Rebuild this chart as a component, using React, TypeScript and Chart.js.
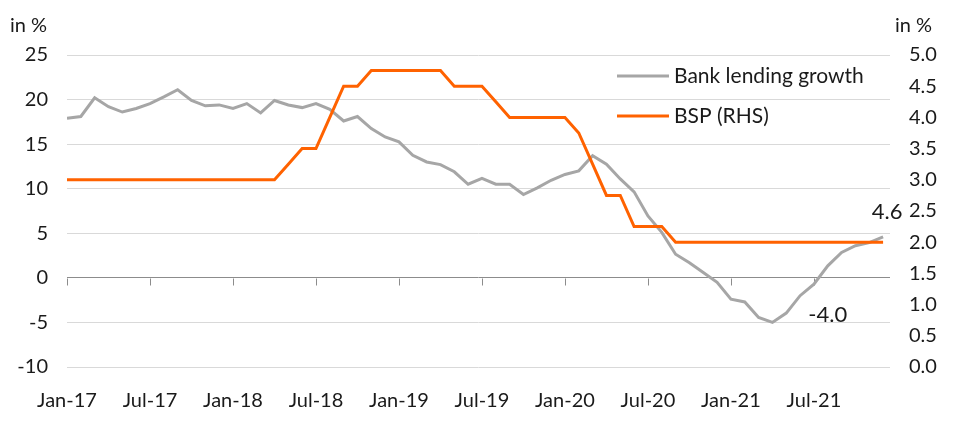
import React, { useEffect, useRef } from 'react';
import { Chart, registerables } from 'chart.js';

Chart.register(...registerables);

const months = [
  'Jan-17', 'Feb-17', 'Mar-17', 'Apr-17', 'May-17', 'Jun-17', 'Jul-17', 'Aug-17', 'Sep-17', 'Oct-17', 'Nov-17', 'Dec-17',
  'Jan-18', 'Feb-18', 'Mar-18', 'Apr-18', 'May-18', 'Jun-18', 'Jul-18', 'Aug-18', 'Sep-18', 'Oct-18', 'Nov-18', 'Dec-18',
  'Jan-19', 'Feb-19', 'Mar-19', 'Apr-19', 'May-19', 'Jun-19', 'Jul-19', 'Aug-19', 'Sep-19', 'Oct-19', 'Nov-19', 'Dec-19',
  'Jan-20', 'Feb-20', 'Mar-20', 'Apr-20', 'May-20', 'Jun-20', 'Jul-20', 'Aug-20', 'Sep-20', 'Oct-20', 'Nov-20', 'Dec-20',
  'Jan-21', 'Feb-21', 'Mar-21', 'Apr-21', 'May-21', 'Jun-21', 'Jul-21', 'Aug-21', 'Sep-21', 'Oct-21', 'Nov-21', 'Dec-21',
];

const xTickMonths = ['Jan-17', 'Jul-17', 'Jan-18', 'Jul-18', 'Jan-19', 'Jul-19', 'Jan-20', 'Jul-20', 'Jan-21', 'Jul-21'];

const lendingGrowth = [
  17.9, 18.1, 20.2, 19.2, 18.6, 19.0, 19.55, 20.3, 21.1, 19.9, 19.3, 19.4,
  19.0, 19.55, 18.5, 19.9, 19.4, 19.1, 19.55, 18.9, 17.6, 18.1, 16.75, 15.8,
  15.25, 13.75, 13.0, 12.7, 11.9, 10.5, 11.15, 10.5, 10.5, 9.35, 10.1, 10.95,
  11.6, 12.0, 13.7, 12.75, 11.1, 9.65, 6.95, 5.1, 2.65, 1.7, 0.6, -0.5,
  -2.4, -2.7, -4.45, -5.0, -3.95, -2.0, -0.7, 1.35, 2.85, 3.6, 3.95, 4.6,
];

const bspRate = [
  3.0, 3.0, 3.0, 3.0, 3.0, 3.0, 3.0, 3.0, 3.0, 3.0, 3.0, 3.0,
  3.0, 3.0, 3.0, 3.0, 3.25, 3.5, 3.5, 4.0, 4.5, 4.5, 4.75, 4.75,
  4.75, 4.75, 4.75, 4.75, 4.5, 4.5, 4.5, 4.25, 4.0, 4.0, 4.0, 4.0,
  4.0, 3.75, 3.25, 2.75, 2.75, 2.25, 2.25, 2.25, 2.0, 2.0, 2.0, 2.0,
  2.0, 2.0, 2.0, 2.0, 2.0, 2.0, 2.0, 2.0, 2.0, 2.0, 2.0, 2.0,
];

const seriesNames = ['Bank lending growth', 'BSP (RHS)'];
const axisUnit = 'in %';
const lastValueLabel = '4.6';
const troughLabel = '-4.0';
const troughLabelMonth = 'Aug-21';
const troughLabelValue = -4.0;

const FONT = 'Lato, "Noto Sans", sans-serif';
const TEXT = '#1a1a1a';
const GREY = '#a6a6a6';
const ORANGE = '#ff6200';

const overlay = {
  id: 'overlay',
  beforeDatasetsDraw(chart: any) {
    const { ctx, scales } = chart;
    const x = scales.x;
    const y = scales.y;
    const y0 = Math.round(y.getPixelForValue(0)) + 0.5;
    ctx.save();
    ctx.strokeStyle = '#8c8c8c';
    ctx.lineWidth = 1;
    xTickMonths.forEach((m) => {
      const px = Math.round(x.getPixelForValue(months.indexOf(m))) + 0.5;
      ctx.beginPath();
      ctx.moveTo(px, y0);
      ctx.lineTo(px, y0 + 7);
      ctx.stroke();
    });
    ctx.restore();
  },
  afterDatasetsDraw(chart: any) {
    const { ctx, scales, chartArea } = chart;
    const x = scales.x;
    const y = scales.y;
    ctx.save();
    ctx.fillStyle = TEXT;
    ctx.textBaseline = 'middle';
    ctx.font = `20px ${FONT}`;
    ctx.textAlign = 'left';
    ctx.fillText(axisUnit, 10, 26);
    ctx.fillText(axisUnit, 895, 26);

    // legend
    ctx.font = `21px ${FONT}`;
    const lx = chartArea.right - 273;
    const rows = [
      { name: seriesNames[0], color: GREY, yy: 76 },
      { name: seriesNames[1], color: ORANGE, yy: 116 },
    ];
    rows.forEach((r) => {
      ctx.strokeStyle = r.color;
      ctx.lineWidth = 3;
      ctx.beginPath();
      ctx.moveTo(lx, r.yy);
      ctx.lineTo(lx + 52, r.yy);
      ctx.stroke();
      ctx.fillText(r.name, lx + 57, r.yy);
    });

    // annotations
    ctx.font = `22px ${FONT}`;
    ctx.textAlign = 'center';
    const lastIdx = lendingGrowth.length - 1;
    ctx.fillText(lastValueLabel, x.getPixelForValue(lastIdx) + 4, y.getPixelForValue(lendingGrowth[lastIdx]) - 25);
    ctx.fillText(troughLabel, x.getPixelForValue(months.indexOf(troughLabelMonth)), y.getPixelForValue(troughLabelValue) + 1);
    ctx.restore();
  },
};

export default function App() {
  const ref = useRef<HTMLCanvasElement | null>(null);

  useEffect(() => {
    if (!ref.current) return;
    const chart = new Chart(ref.current, {
      type: 'line',
      data: {
        datasets: [
          {
            label: seriesNames[0],
            data: lendingGrowth.map((v, i) => ({ x: i, y: v })),
            borderColor: GREY,
            backgroundColor: GREY,
            borderWidth: 3,
            pointRadius: 0,
            tension: 0,
            yAxisID: 'y',
            order: 1,
          },
          {
            label: seriesNames[1],
            data: bspRate.map((v, i) => ({ x: i, y: v })),
            borderColor: ORANGE,
            backgroundColor: ORANGE,
            borderWidth: 3,
            pointRadius: 0,
            tension: 0,
            yAxisID: 'y1',
            order: 0,
          },
        ],
      },
      options: {
        responsive: false,
        animation: false,
        layout: { padding: { top: 55, left: 0, right: 0, bottom: 0 } },
        plugins: { legend: { display: false }, tooltip: { enabled: false } },
        scales: {
          x: {
            type: 'linear',
            min: 0,
            max: 59.5,
            grid: { display: false },
            border: { display: false },
            ticks: {
              autoSkip: false,
              maxRotation: 0,
              padding: 14,
              color: TEXT,
              font: { family: FONT, size: 20 },
              callback: (v: any) => months[Number(v)] ?? '',
            },
            afterBuildTicks: (s: any) => {
              s.ticks = xTickMonths.map((m) => ({ value: months.indexOf(m) }));
            },
            afterFit: (s: any) => {
              s.height = 71;
            },
          },
          y: {
            type: 'linear',
            position: 'left',
            min: -10,
            max: 25,
            ticks: { stepSize: 5, padding: 19, color: TEXT, font: { family: FONT, size: 20 } },
            grid: {
              drawTicks: false,
              lineWidth: 1,
              color: (c: any) => (c.tick && c.tick.value === 0 ? '#8c8c8c' : '#d9d9d9'),
            },
            border: { display: false },
            afterFit: (s: any) => {
              s.width = 67;
            },
          },
          y1: {
            type: 'linear',
            position: 'right',
            min: 0,
            max: 5,
            ticks: {
              stepSize: 0.5,
              padding: 19,
              color: TEXT,
              font: { family: FONT, size: 20 },
              callback: (v: any) => Number(v).toFixed(1),
            },
            grid: { display: false, drawTicks: false },
            border: { display: false },
            afterFit: (s: any) => {
              s.width = 63;
            },
          },
        },
      },
      plugins: [overlay],
    } as any);
    return () => chart.destroy();
  }, []);

  return (
    <div style={{ position: 'absolute', left: 0, top: 0, width: 953, height: 438, background: '#fff' }}>
      <canvas ref={ref} width={953} height={438} style={{ display: 'block' }} />
    </div>
  );
}
